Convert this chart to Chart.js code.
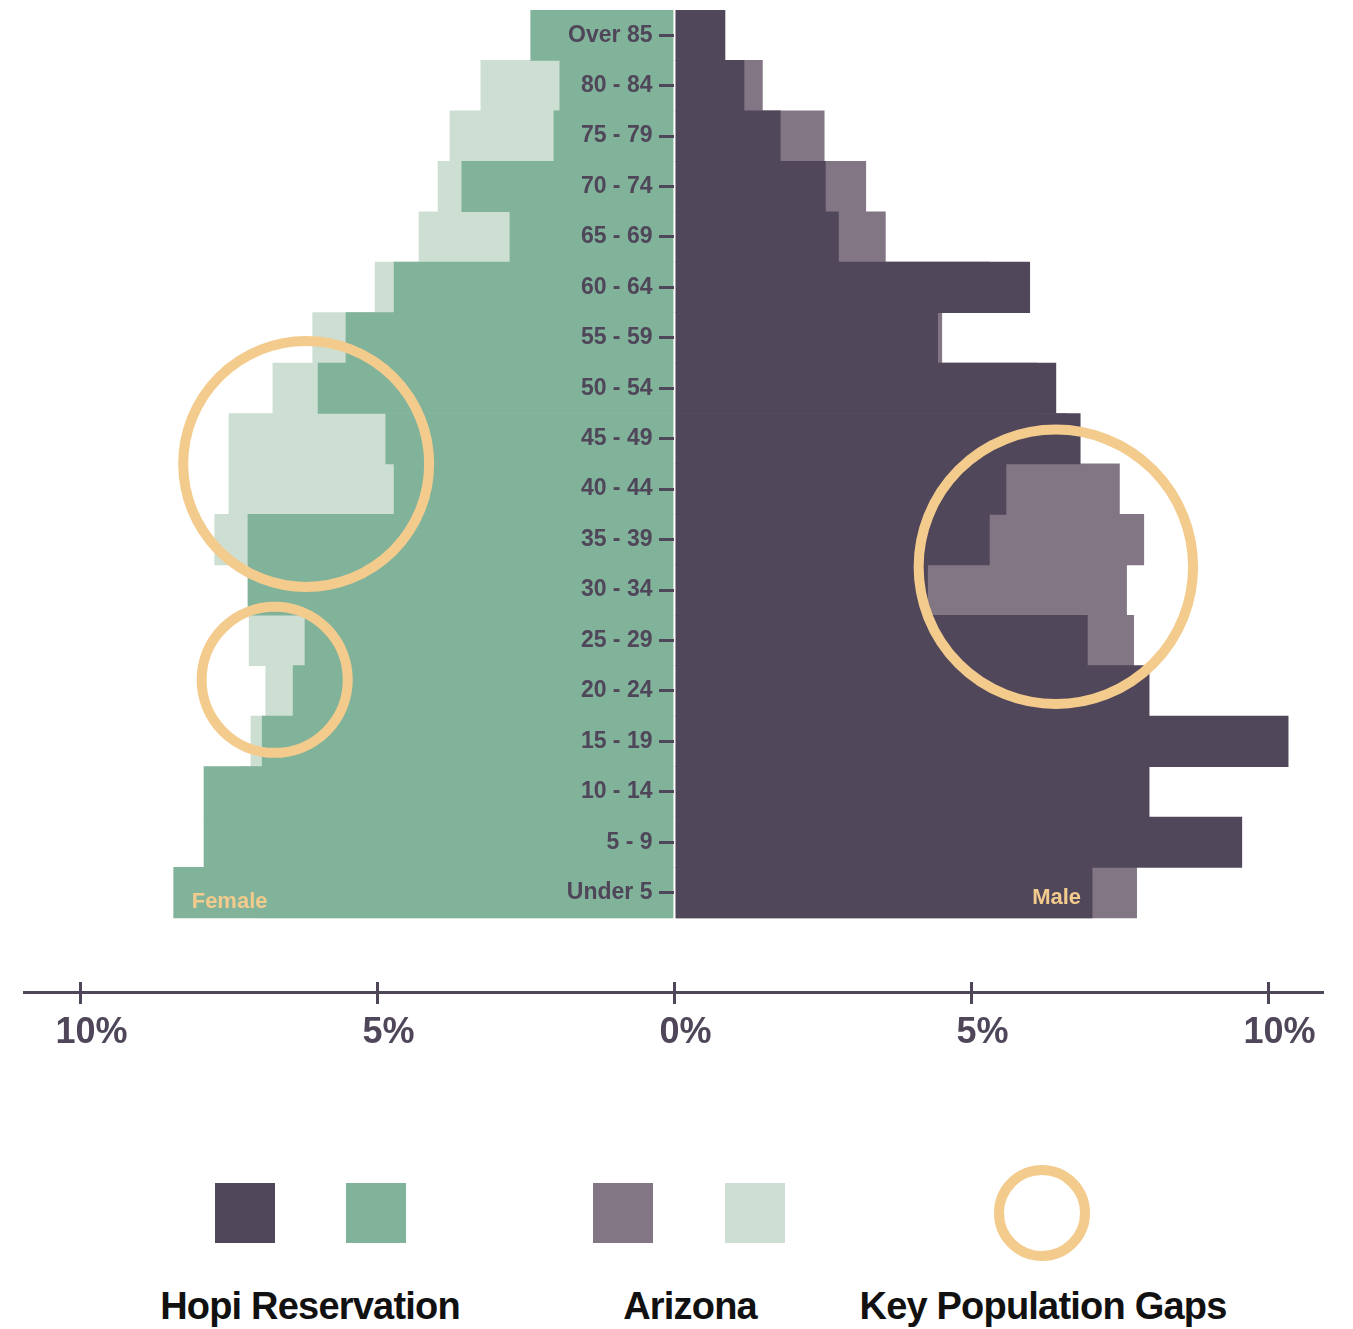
<!DOCTYPE html>
<html>
<head>
<meta charset="utf-8">
<script src="https://cdn.jsdelivr.net/npm/chart.js@4.4.1/dist/chart.umd.min.js"></script>
<style>
html,body{margin:0;padding:0;background:#fff;}
#wrap{position:relative;width:1353px;height:1329px;overflow:hidden;font-family:"Liberation Sans",Arial,sans-serif;}
#chartBox{position:absolute;left:0;top:0;width:1353px;height:1090px;}
.sw{position:absolute;top:1183px;width:60px;height:60px;}
.lt{position:absolute;top:1287px;font-size:38px;line-height:38px;font-weight:700;letter-spacing:-0.8px;color:#111;text-align:center;white-space:nowrap;}
.ring{position:absolute;left:994px;top:1165px;width:76px;height:76px;border:10px solid #f3cb8d;border-radius:50%;}
</style>
</head>
<body>
<div id="wrap">
  <div id="chartBox"><canvas id="c"></canvas></div>
  <div class="sw" style="left:215px;background:#50475a"></div>
  <div class="sw" style="left:346px;background:#81b29a"></div>
  <div class="sw" style="left:593px;background:#827684"></div>
  <div class="sw" style="left:725px;background:#cddfd3"></div>
  <div class="ring"></div>
  <div class="lt" style="left:110px;width:400px">Hopi Reservation</div>
  <div class="lt" style="left:540px;width:300px">Arizona</div>
  <div class="lt" style="left:843px;width:400px">Key Population Gaps</div>
</div>
<script>
// ---- data (top row first) ----
const categories = ['Over 85','80 - 84','75 - 79','70 - 74','65 - 69','60 - 64','55 - 59','50 - 54','45 - 49','40 - 44','35 - 39','30 - 34','25 - 29','20 - 24','15 - 19','10 - 14','5 - 9','Under 5'];
const hopiFemale    = [2.42, 1.93, 2.03, 3.58, 2.77, 4.72, 5.53, 6.00, 4.86, 4.72, 7.18, 7.18, 6.22, 6.42, 6.94, 7.92, 7.92, 8.43];
const hopiMale      = [0.85, 1.17, 1.78, 2.54, 2.76, 5.98, 4.43, 6.42, 6.83, 5.58, 5.30, 4.26, 6.95, 7.99, 10.33, 7.99, 9.55, 7.03];
const arizonaFemale = [2.20, 3.26, 3.78, 3.98, 4.30, 5.04, 6.09, 6.76, 7.50, 7.50, 7.74, 7.00, 7.16, 6.88, 7.13, 7.30, 7.20, 7.00];
const arizonaMale   = [0.60, 1.48, 2.52, 3.22, 3.55, 5.30, 4.50, 6.10, 6.60, 7.49, 7.90, 7.61, 7.73, 7.70, 7.60, 7.60, 7.50, 7.78];
const xTickValues = [-10, -5, 0, 5, 10];
// key population gaps: centre (percent, row index) and radius in percent units
const gapCircles = [
  {x: -6.20, y: 8.50, size: 2.07},
  {x: -6.73, y: 12.78, size: 1.23},
  {x: 6.42, y: 10.54, size: 2.31}
];
const sideLabelFemale = 'Female';
const sideLabelMale = 'Male';

// ---- styling / layout ----
const INK = '#4f4659';
const FONT = '"Liberation Sans", Arial, sans-serif';
const C_HOPI_M = '#50475a', C_HOPI_F = '#81b29a', C_AZ_M = '#827684', C_AZ_F = '#cddfd3', C_GAP = '#f3cb8d';
const CANVAS_W = 1353, PAD_L = 24, PAD_R = 31;
const X_MIN = -10.95, X_MAX = 10.9, Y_MIN = -0.5, Y_MAX = 18.97, XT_POS = 18.772, LABEL_X = -0.3703;
const PX_PER_PCT = (CANVAS_W - PAD_L - PAD_R) / (X_MAX - X_MIN);

const toPoints = (arr, sign) => arr.map((v, i) => ({x: sign * v, y: i}));
const rowTicks = s => { s.ticks = categories.map((_, i) => ({value: i})); };
const pctTicks = s => { s.ticks = xTickValues.map(v => ({value: v})); };
const noPad = s => { s.paddingTop = 0; s.paddingBottom = 0; s.paddingLeft = 0; s.paddingRight = 0; };
// bubble table for the library: radius converted from percent units to pixels of the x scale
const gapBubbles = gapCircles.map(c => ({x: c.x, y: c.y, r: c.size * PX_PER_PCT}));

const barCommon = {type: 'bar', indexAxis: 'y', xAxisID: 'x', yAxisID: 'y', grouped: false,
  barPercentage: 1, categoryPercentage: 1, borderWidth: 0};

const sideLabelPlugin = {
  id: 'sideLabels',
  afterDatasetsDraw(chart) {
    const last = categories.length - 1;
    const f = chart.getDatasetMeta(1).data[last];
    const m = chart.getDatasetMeta(2).data[last];
    if (!f || !m) return;
    const ctx = chart.ctx;
    ctx.save();
    ctx.font = 'bold 22px ' + FONT;
    ctx.fillStyle = C_GAP;
    ctx.textBaseline = 'middle';
    ctx.textAlign = 'left';
    ctx.fillText(sideLabelFemale, f.x + 18, f.y + 9);
    ctx.textAlign = 'right';
    ctx.fillText(sideLabelMale, m.x - 11, m.y + 5);
    ctx.restore();
  }
};

const chart = new Chart(document.getElementById('c'), {
  type: 'bar',
  data: {
    datasets: [
      {type: 'bubble', label: 'Key Population Gaps', xAxisID: 'x', yAxisID: 'y', data: gapBubbles,
        backgroundColor: 'rgba(0,0,0,0)', borderColor: C_GAP, borderWidth: 10},
      Object.assign({label: 'Hopi Reservation (Female)', data: toPoints(hopiFemale, -1), backgroundColor: C_HOPI_F}, barCommon),
      Object.assign({label: 'Hopi Reservation (Male)', data: toPoints(hopiMale, 1), backgroundColor: C_HOPI_M}, barCommon),
      Object.assign({label: 'Arizona (Female)', data: toPoints(arizonaFemale, -1), backgroundColor: C_AZ_F}, barCommon),
      Object.assign({label: 'Arizona (Male)', data: toPoints(arizonaMale, 1), backgroundColor: C_AZ_M}, barCommon)
    ]
  },
  options: {
    responsive: true,
    maintainAspectRatio: false,
    animation: false,
    events: [],
    layout: {padding: {top: 10, left: PAD_L, right: PAD_R, bottom: 18}},
    plugins: {legend: {display: false}, tooltip: {enabled: false}},
    scales: {
      x: {
        type: 'linear', axis: 'x', position: 'bottom', min: X_MIN, max: X_MAX, offset: false,
        afterBuildTicks: pctTicks,
        afterFit: s => { s.height = 80; s.paddingLeft = 0; s.paddingRight = 0; },
        grid: {offset: false, drawOnChartArea: false, drawTicks: true, tickLength: 12, tickWidth: 3, tickColor: INK, color: INK, lineWidth: 3},
        border: {display: true, color: INK, width: 3},
        ticks: {padding: 7, labelOffset: 11, color: INK, autoSkip: false, maxRotation: 0,
          font: {family: FONT, size: 36, weight: 'bold', lineHeight: 1.2},
          callback: v => Math.abs(v) + '%'}
      },
      xt: {
        type: 'linear', axis: 'x', position: {y: XT_POS}, min: X_MIN, max: X_MAX, offset: false,
        afterBuildTicks: pctTicks, afterFit: noPad,
        grid: {offset: false, drawOnChartArea: false, drawTicks: true, tickLength: 10, tickWidth: 3, tickColor: INK},
        border: {display: false},
        ticks: {display: false}
      },
      y: {
        type: 'linear', axis: 'y', position: {x: 0}, reverse: true, min: Y_MIN, max: Y_MAX, offset: false,
        afterBuildTicks: rowTicks, afterFit: noPad,
        grid: {offset: false, drawOnChartArea: false, drawTicks: true, tickLength: 15, tickWidth: 3, tickColor: INK, z: 1},
        border: {display: false},
        ticks: {display: false}
      },
      yl: {
        type: 'linear', axis: 'y', position: {x: LABEL_X}, reverse: true, min: Y_MIN, max: Y_MAX, offset: false,
        afterBuildTicks: rowTicks, afterFit: noPad,
        grid: {offset: false, drawOnChartArea: false, drawTicks: false, tickColor: 'rgba(0,0,0,0)', z: 1},
        border: {display: false},
        ticks: {display: true, padding: 0, z: 1, color: INK, autoSkip: false,
          font: {family: FONT, size: 23, weight: 'bold', lineHeight: 1.2},
          callback: v => categories[v] !== undefined ? categories[v] : ''}
      }
    }
  },
  plugins: [sideLabelPlugin]
});
// the gap circles are annotations: they must not reserve extra layout space around the plot
try {
  chart.getDatasetMeta(0).controller.getMaxOverflow = () => false;
  chart.update();
} catch (e) {}
</script>
</body>
</html>
